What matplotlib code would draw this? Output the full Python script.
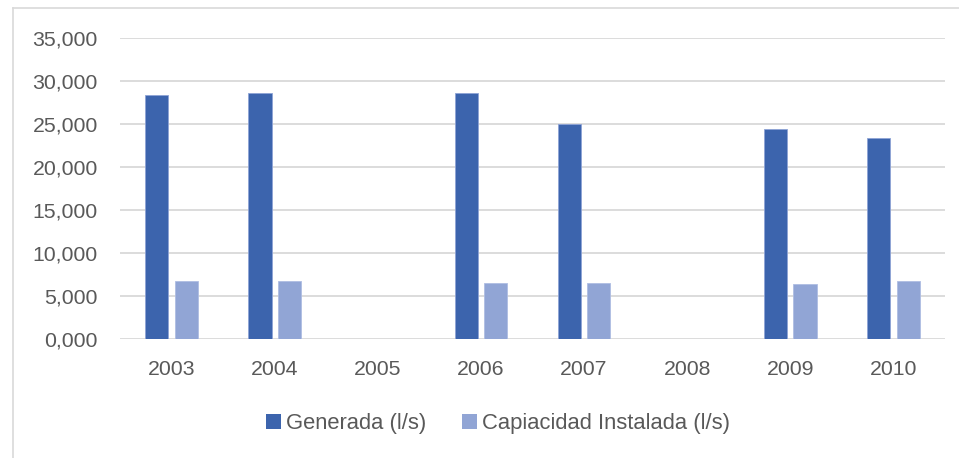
import numpy as np
import matplotlib
matplotlib.use("Agg")
import matplotlib.pyplot as plt
from matplotlib.lines import Line2D
from matplotlib.patches import Patch
from matplotlib.ticker import FuncFormatter

years = ["2003", "2004", "2005", "2006", "2007", "2008", "2009", "2010"]
generada = [28.35, 28.58, np.nan, 28.55, 25.02, np.nan, 24.37, 23.40]
capacidad = [6.77, 6.77, np.nan, 6.53, 6.53, np.nan, 6.45, 6.77]
series_names = ["Generada (l/s)", "Capiacidad Instalada (l/s)"]

dark = "#3c64ad"
light = "#91a5d5"
text_gray = "#595959"
grid_gray = "#d9d9d9"

plt.rcParams["font.family"] = ["Liberation Sans", "DejaVu Sans"]

W, H = 959, 458
fig = plt.figure(figsize=(W / 100, H / 100), dpi=100)
ax = fig.add_axes([120 / W, 1 - 339.3 / H, (945 - 120) / W, (339.3 - 37.7) / H])

x = np.arange(len(years))
bw = 0.225
off = bw / 2 + 0.03
ax.bar(x - off, generada, width=bw, color=dark, edgecolor="#8ea3d6",
       linewidth=0.6, zorder=3)
ax.bar(x + off, capacidad, width=bw, color=light, edgecolor="#aebde3",
       linewidth=0.6, zorder=3)

ax.set_xlim(-0.5, len(years) - 0.5)
ax.set_ylim(0, 35)
ax.set_yticks(np.arange(0, 35.1, 5))
ax.yaxis.set_major_formatter(FuncFormatter(lambda v, p: f"{v:.3f}".replace(".", ",")))
ax.set_xticks(x)
ax.set_xticklabels(years)
ax.grid(axis="y", color=grid_gray, linewidth=1.3, zorder=0)
ax.set_axisbelow(True)
for s in ax.spines.values():
    s.set_visible(False)
ax.tick_params(axis="both", length=0, labelsize=15.3, colors=text_gray)
ax.tick_params(axis="y", pad=16)
ax.tick_params(axis="x", pad=15)

handles = [Patch(facecolor=dark, edgecolor="none"),
           Patch(facecolor=light, edgecolor="none")]
fig.legend(handles, series_names, loc="center", bbox_to_anchor=(498 / W, 1 - 424 / H),
           ncol=2, frameon=False, fontsize=15.8, labelcolor=text_gray,
           handlelength=0.68, handleheight=0.68, handletextpad=0.25,
           columnspacing=1.6)

# chart frame edges
fig.add_artist(Line2D([13 / W, 13 / W], [0, 1 - 8 / H], color=grid_gray,
                      linewidth=1.2, transform=fig.transFigure))
fig.add_artist(Line2D([13 / W, 1], [1 - 8 / H, 1 - 8 / H], color=grid_gray,
                      linewidth=1.2, transform=fig.transFigure))

fig.savefig("out.png", dpi=100, facecolor="white")
